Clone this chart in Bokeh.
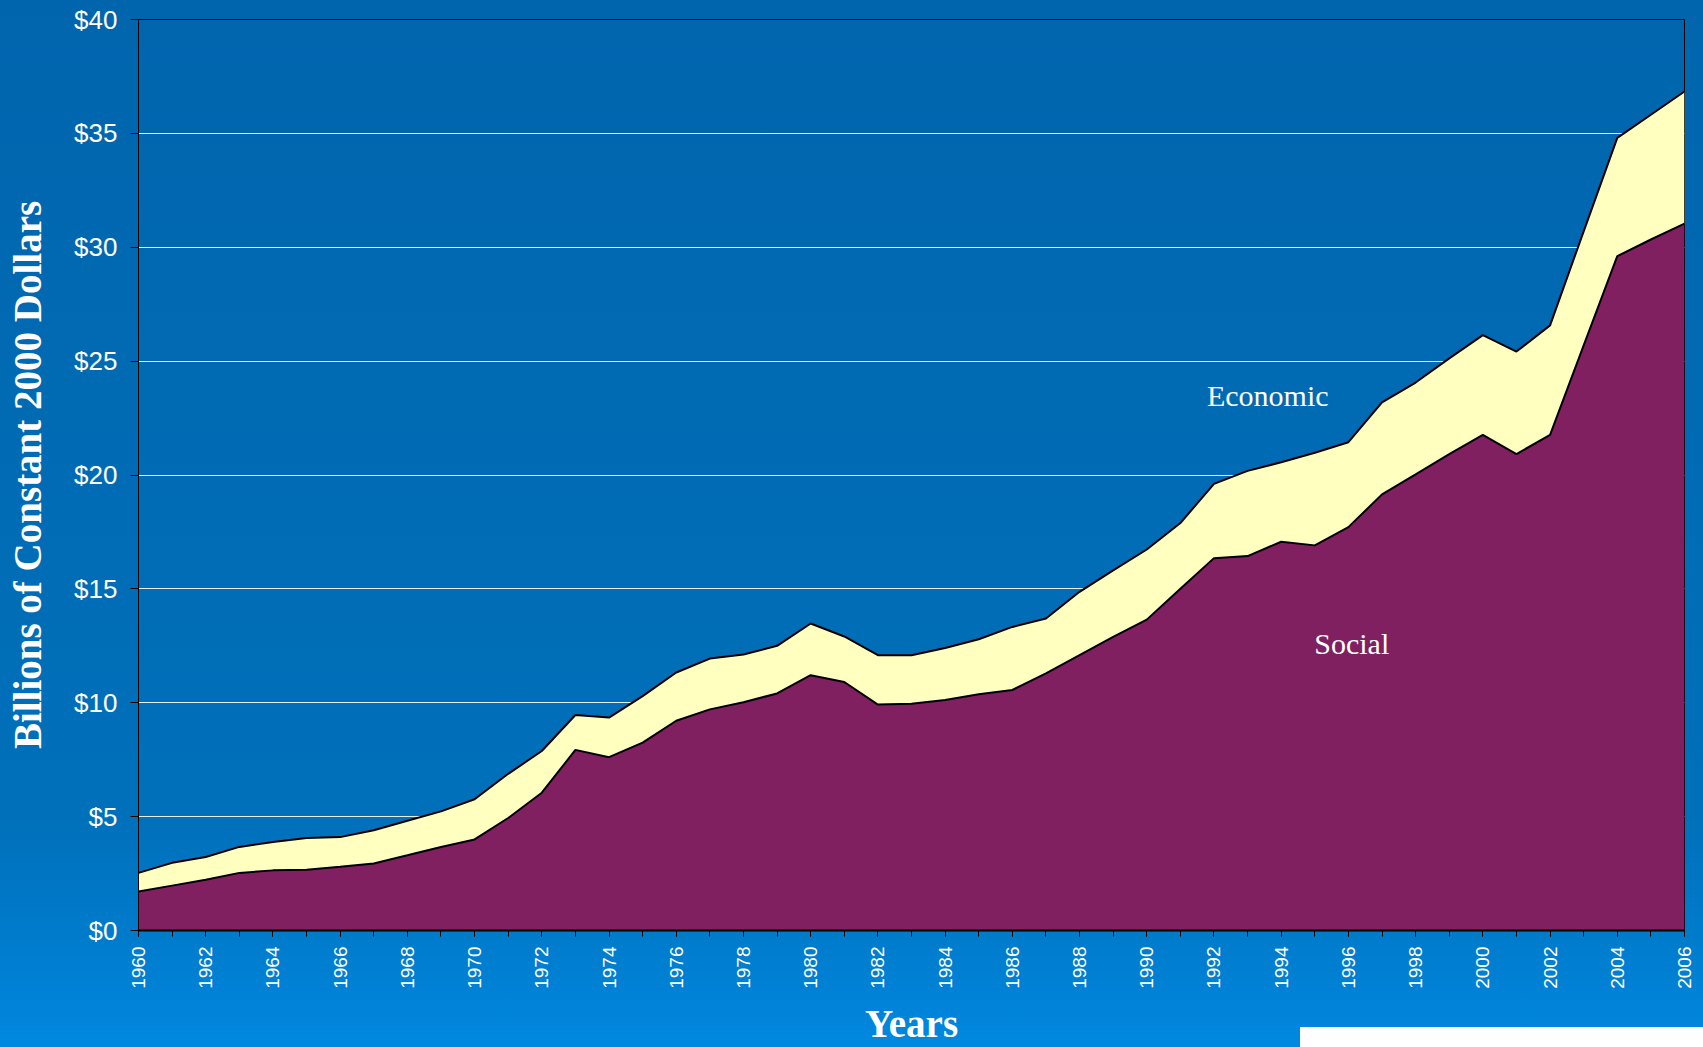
import math
from bokeh.plotting import figure
from bokeh.models import (ColumnDataSource, Range1d, SingleIntervalTicker, FixedTicker,
                          NumeralTickFormatter, Label)
from bokeh.transform import stack
from bokeh.embed import file_html
from bokeh.resources import INLINE

# ---- data (billions of constant 2000 dollars) ----
years = list(range(1960, 2007))
social = [1.71, 1.97, 2.23, 2.53, 2.64, 2.67, 2.80, 2.94, 3.30, 3.67,
          4.00, 4.94, 6.05, 7.93, 7.61, 8.25, 9.21, 9.71, 10.02, 10.41,
          11.21, 10.91, 9.92, 9.96, 10.12, 10.37, 10.56, 11.29, 12.09, 12.89,
          13.65, 15.01, 16.35, 16.44, 17.07, 16.91, 17.71, 19.15, 20.03, 20.92,
          21.76, 20.92, 21.76, 25.69, 29.61, 30.34, 31.04]
economic = [0.82, 1.00, 1.00, 1.14, 1.25, 1.39, 1.30, 1.46, 1.52, 1.56,
            1.76, 1.94, 1.83, 1.53, 1.74, 2.04, 2.12, 2.23, 2.10, 2.09,
            2.27, 2.00, 2.17, 2.13, 2.28, 2.42, 2.77, 2.41, 2.78, 2.92,
            3.08, 2.88, 3.26, 3.74, 3.49, 4.07, 3.73, 4.04, 4.03, 4.20,
            4.38, 4.50, 4.81, 5.01, 5.19, 5.48, 5.80]
y_ticks = [0, 5, 10, 15, 20, 25, 30, 35, 40]
series_names = ["Social", "Economic"]
y_title = "Billions of Constant 2000 Dollars"
x_title = "Years"

source = ColumnDataSource(dict(year=years, social=social, economic=economic))

p = figure(width=1703, height=1047, output_backend="svg", toolbar_location=None,
           x_range=Range1d(1960, 2006), y_range=Range1d(0, 40),
           min_border_left=138, min_border_right=19, min_border_top=19,
           min_border_bottom=114,
           x_axis_label=x_title, y_axis_label=y_title)
p.background_fill_alpha = 0
p.border_fill_alpha = 0
p.outline_line_color = "black"
p.outline_line_width = 1

p.varea_stack(stackers=["social", "economic"], x="year",
              color=["#802060", "#FFFFC0"], source=source)
p.line(x="year", y=stack("social"), color="black", line_width=2, source=source)
p.line(x="year", y=stack("social", "economic"), color="black", line_width=2,
       source=source)

serif = "Liberation Serif"

# x axis
xa = p.xaxis[0]
xa.ticker = SingleIntervalTicker(interval=2, num_minor_ticks=2)
xa.major_label_orientation = math.pi / 2
xa.major_label_text_font = "Liberation Sans"
xa.major_label_text_font_size = "19px"
xa.major_label_text_color = "white"
xa.major_label_standoff = 10
xa.major_tick_out = 6
xa.major_tick_in = 0
xa.minor_tick_out = 6
xa.minor_tick_in = 0
xa.major_tick_line_color = "black"
xa.minor_tick_line_color = "black"
xa.axis_line_color = "black"
xa.axis_line_width = 2
xa.axis_label_text_font = serif
xa.axis_label_text_font_style = "bold"
xa.axis_label_text_font_size = "39px"
xa.axis_label_text_color = "white"
xa.axis_label_standoff = 10

# y axis
ya = p.yaxis[0]
ya.ticker = FixedTicker(ticks=y_ticks)
ya.formatter = NumeralTickFormatter(format="$0")
ya.major_label_text_font = "Liberation Sans"
ya.major_label_text_font_size = "26px"
ya.major_label_text_color = "white"
ya.major_label_standoff = 13
ya.major_tick_out = 8
ya.major_tick_in = 0
ya.minor_tick_line_color = None
ya.major_tick_line_color = "black"
ya.axis_line_color = "black"
ya.axis_label_text_font = serif
ya.axis_label_text_font_style = "bold"
ya.axis_label_text_font_size = "39px"
ya.axis_label_text_color = "white"
ya.axis_label_standoff = 22

p.xgrid.visible = False
p.ygrid.grid_line_color = "#e6eef6"
p.ygrid.grid_line_width = 1

p.add_layout(Label(x=1993.6, y=23.5, text=series_names[1], text_font=serif,
                   text_font_size="30px", text_color="white",
                   text_align="center", text_baseline="middle"))
p.add_layout(Label(x=1996.1, y=12.62, text=series_names[0], text_font=serif,
                   text_font_size="30px", text_color="white",
                   text_align="center", text_baseline="middle"))

html = file_html(p, INLINE, title="Social and Economic")
css = ("<style>html{height:100%;background:"
       "linear-gradient(#ffffff,#ffffff) right bottom / 403px 20px no-repeat,"
       "linear-gradient(to bottom,#0065ad 0%,#0070ba 78%,#007ccd 90%,#0088e0 100%);}"
       "body{margin:0;background:transparent;}</style>")
html = html.replace("</head>", css + "</head>", 1)
open("out.html", "w").write(html)
